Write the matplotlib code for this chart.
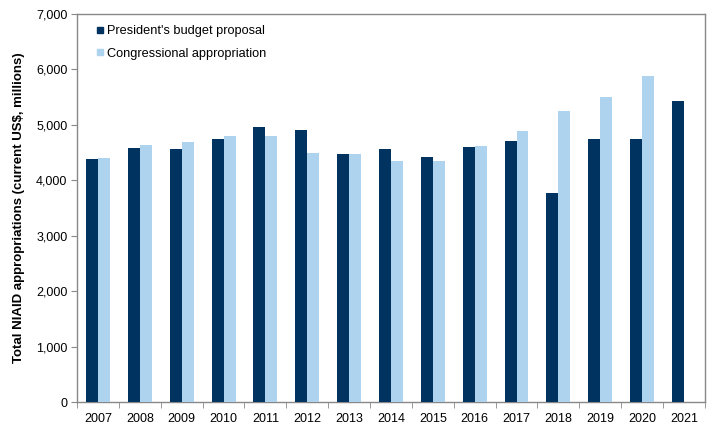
import numpy as np
import matplotlib.pyplot as plt
from matplotlib.lines import Line2D
from matplotlib.ticker import MultipleLocator, FuncFormatter, FixedLocator

years = ["2007", "2008", "2009", "2010", "2011", "2012", "2013", "2014",
         "2015", "2016", "2017", "2018", "2019", "2020", "2021"]
president = [4385, 4585, 4565, 4745, 4960, 4905, 4475, 4570, 4420, 4600, 4710, 3770, 4745, 4745, 5430]
congress = [4400, 4635, 4690, 4800, 4800, 4490, 4475, 4350, 4350, 4615, 4890, 5250, 5505, 5880, np.nan]

dark = '#003360'
light = '#aed3ef'
plt.rcParams['font.family'] = ['Liberation Sans', 'DejaVu Sans']

fig = plt.figure(figsize=(7.2, 4.32), dpi=100)
ax = fig.add_axes([0.107, 0.0694, 0.872, 0.8982])

x = np.arange(len(years))
w = 0.286
ax.bar(x - w/2, president, width=w, color=dark, zorder=3)
ax.bar(x + w/2, congress, width=w, color=light, zorder=3)

ax.set_xlim(-0.5, len(years) - 0.5)
ax.set_ylim(0, 7000)
ax.yaxis.set_major_locator(MultipleLocator(1000))
ax.yaxis.set_major_formatter(FuncFormatter(lambda v, p: f'{int(v):,}'))

ax.set_xticks(x)
ax.set_xticklabels(years)
ax.xaxis.set_minor_locator(FixedLocator(np.arange(-0.5, len(years), 1)))
ax.tick_params(axis='x', which='major', length=0, pad=8, labelsize=9)
ax.tick_params(axis='x', which='minor', length=4, color='#888888', direction='out')
ax.tick_params(axis='y', length=4, color='#888888', direction='out', labelsize=9, pad=3)

for s in ax.spines.values():
    s.set_color('#888888')
    s.set_linewidth(1)

ax.set_ylabel('Total NIAID appropriations (current US$, millions)', fontsize=9.5, fontweight='bold', labelpad=8)

handles = [Line2D([], [], marker='s', linestyle='', color=dark, markersize=5),
           Line2D([], [], marker='s', linestyle='', color=light, markersize=5)]
ax.legend(handles, ["President's budget proposal", 'Congressional appropriation'],
          loc='upper left', bbox_to_anchor=(0.013, 1.0), frameon=False, fontsize=9.2,
          handlelength=0.5, handletextpad=0.3, labelspacing=0.8)

plt.savefig('out.png', dpi=100)
